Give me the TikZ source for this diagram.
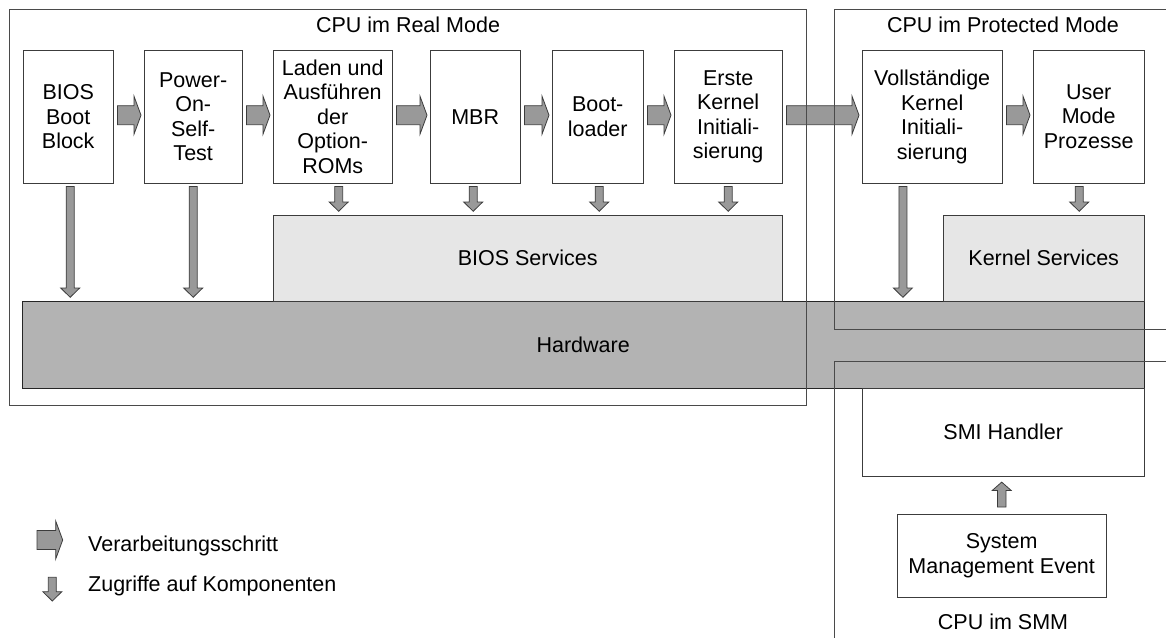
\documentclass[tikz,border=0pt]{standalone}
\usepackage{fontspec}
\setmainfont{Liberation Sans}
\usetikzlibrary{calc}

\definecolor{boxline}{HTML}{3C3C3C}
\definecolor{frameline}{HTML}{4A4A4A}
\definecolor{svcfill}{HTML}{E6E6E6}
\definecolor{hwfill}{HTML}{B3B3B3}
\definecolor{arrfill}{HTML}{999999}
\definecolor{arrline}{HTML}{3C3C3C}

\tikzset{
  lbl/.style={font=\fontsize{21.5}{24.5}\selectfont},
  stepbox/.style={lbl, draw=boxline, fill=white, inner sep=0pt, align=center,
                  anchor=north west, minimum height=133},
  svcbox/.style={lbl, draw=boxline, fill=svcfill, inner sep=0pt, anchor=north west},
  hwbox/.style={lbl, draw=black!85, fill=hwfill, inner sep=0pt, anchor=north west},
  plainbox/.style={lbl, draw=boxline, fill=white, inner sep=0pt, align=center, anchor=north west},
  frame/.style={draw=frameline, line width=1pt},
  title/.style={lbl, inner sep=0pt, anchor=base},
  % processing step: fat arrow pointing right
  fatright/.style={draw=arrline, fill=arrfill, line width=0.8pt, to path={
    let \p1=(\tikztostart), \p2=(\tikztotarget) in
    (\x1+4,\y1+11) -- (\x2-10,\y1+11) -- (\x2-10,\y1+20.5) -- (\x2-3,\y1+1.5)
    -- (\x2-10,\y1-17.5) -- (\x2-10,\y1-8) -- (\x1+4,\y1-8) -- cycle}},
  % access to a component: narrow arrow pointing down
  fatdown/.style={draw=arrline, fill=arrfill, line width=0.8pt, to path={
    let \p1=(\tikztostart), \p2=(\tikztotarget) in
    (\x1-4,\y1-3) -- (\x1+4,\y1-3) -- (\x1+4,\y2+13) -- (\x1+9.5,\y2+13)
    -- (\x1,\y2+3.7) -- (\x1-9.5,\y2+13) -- (\x1-4,\y2+13) -- cycle}},
  % event signal: narrow arrow pointing up
  fatup/.style={draw=arrline, fill=arrfill, line width=0.8pt, to path={
    let \p1=(\tikztostart), \p2=(\tikztotarget) in
    (\x1-4.3,\y1+7) -- (\x1+4.3,\y1+7) -- (\x1+4.3,\y2-14) -- (\x1+9.4,\y2-14)
    -- (\x1,\y2-5.7) -- (\x1-9.4,\y2-14) -- (\x1-4.3,\y2-14) -- cycle}},
}

\begin{document}
\begin{tikzpicture}[x=1pt,y=1pt]
\useasboundingbox (0,0) rectangle (1166,-637);

% hardware layer and service layers
\node[hwbox, minimum width=1122, minimum height=87] (hw) at (22,-301) {Hardware};
\node[svcbox, minimum width=509, minimum height=86] (biossvc) at (273,-215) {BIOS Services};
\node[svcbox, minimum width=201, minimum height=86] (kernsvc) at (943,-215) {Kernel Services};

% boot steps
\node[stepbox, minimum width=90]  (bios)  at (23,-50)   {BIOS\\Boot\\Block};
\node[stepbox, minimum width=98]  (post)  at (144,-50)  {Power-\\On-\\Self-\\Test};
\node[stepbox, minimum width=119] (laden) at (273,-50)  {Laden und\\Ausführen\\der\\Option-\\ROMs};
\node[stepbox, minimum width=90]  (mbr)   at (430,-50)  {MBR};
\node[stepbox, minimum width=91]  (boot)  at (552,-50)  {Boot-\\loader};
\node[stepbox, minimum width=108] (erste) at (674,-50)  {Erste\\Kernel\\Initiali-\\sierung};
\node[stepbox, minimum width=140] (voll)  at (862,-50)  {Vollständige\\Kernel\\Initiali-\\sierung};
\node[stepbox, minimum width=111] (user)  at (1033,-50) {User\\Mode\\Prozesse};

% system management mode
\node[plainbox, minimum width=282, minimum height=88] (smi) at (862,-388) {SMI Handler};
\node[plainbox, minimum width=209, minimum height=83] (sme) at (897,-514) {System\\Management Event};

% processing steps
\draw[fatright] (bios.east)  to (post.west);
\draw[fatright] (post.east)  to (laden.west);
\draw[fatright] (laden.east) to (mbr.west);
\draw[fatright] (mbr.east)   to (boot.west);
\draw[fatright] (boot.east)  to (erste.west);
\draw[fatright] (erste.east) to (voll.west);
\draw[fatright] (voll.east)  to (user.west);

% component accesses
\draw[fatdown] ([xshift=2]bios.south) to ([xshift=2]bios.south |- hw.north);
\draw[fatdown] (post.south) to (post.south |- hw.north);
\draw[fatdown] ([xshift=6]laden.south) to ([xshift=6]laden.south |- biossvc.north);
\draw[fatdown] ([xshift=-2]mbr.south) to ([xshift=-2]mbr.south |- biossvc.north);
\draw[fatdown] ([xshift=1.5]boot.south) to ([xshift=1.5]boot.south |- biossvc.north);
\draw[fatdown] (erste.south) to (erste.south |- biossvc.north);
\draw[fatdown] ([xshift=-29.3]voll.south) to ([xshift=-29.3]voll.south |- hw.north);
\draw[fatdown] ([xshift=-9.5]user.south) to ([xshift=-9.5]user.south |- kernsvc.north);
\draw[fatup] (sme.north) to (sme.north |- smi.south);

% CPU modes
\draw[frame] (9,-9) rectangle (806,-405.5);
\draw[frame] (834,-9) rectangle (1172,-329);
\draw[frame] (834,-361) rectangle (1172,-660);
\node[title] (trm)  at (408,-32.3)   {CPU im Real Mode};
\node[title] (tpm)  at (1003,-32.3)  {CPU im Protected Mode};
\node[title] (tsmm) at (1003,-629.3) {CPU im SMM};

% legend
\coordinate (legA) at (33,-541.5);
\coordinate (legB) at (65.7,-541.5);
\draw[fatright] (legA) to (legB);
\coordinate (legC) at (52.3,-574.3);
\coordinate (legD) at (52.3,-604.7);
\draw[fatdown] (legC) to (legD);
\node[lbl, inner sep=0pt, anchor=base west] (legtxt1) at (88,-551.7) {Verarbeitungsschritt};
\node[lbl, inner sep=0pt, anchor=base west] (legtxt2) at (88,-591.5) {Zugriffe auf Komponenten};
\end{tikzpicture}
\end{document}
